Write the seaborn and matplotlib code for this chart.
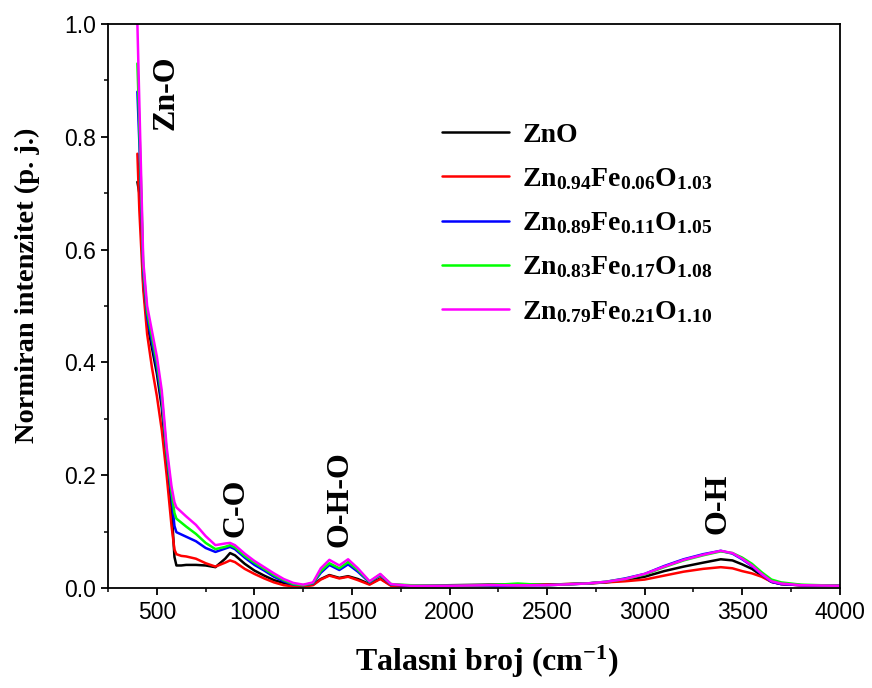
import matplotlib
matplotlib.use("Agg")
import matplotlib.pyplot as plt
import pandas as pd
import seaborn as sns
from matplotlib.ticker import MultipleLocator

# FTIR spectra, normalised intensity vs. wavenumber (cm^-1)
wavenumber = [400, 410, 420, 430, 450, 475, 500, 525, 550, 575,
              590, 600, 625, 650, 700, 750, 800, 850, 875, 900,
              950, 1000, 1050, 1100, 1150, 1200, 1250, 1300, 1340, 1384,
              1435, 1480, 1530, 1590, 1645, 1700, 1800, 2000, 2200, 2350,
              2500, 2700, 2800, 2900, 3000, 3100, 3200, 3300, 3390, 3450,
              3500, 3550, 3600, 3650, 3700, 3800, 4000]

zno = [0.72, 0.70, 0.65, 0.54, 0.47, 0.425, 0.38, 0.32, 0.22, 0.14,
       0.055, 0.040, 0.040, 0.041, 0.041, 0.040, 0.037, 0.052, 0.062, 0.058,
       0.043, 0.031, 0.022, 0.014, 0.009, 0.005, 0.004, 0.006, 0.016, 0.023,
       0.018, 0.021, 0.016, 0.007, 0.017, 0.005, 0.004, 0.005, 0.006, 0.006,
       0.006, 0.008, 0.010, 0.014, 0.020, 0.030, 0.038, 0.045, 0.051, 0.049,
       0.042, 0.034, 0.022, 0.011, 0.007, 0.005, 0.004]

fe006 = [0.77, 0.67, 0.60, 0.53, 0.45, 0.39, 0.34, 0.28, 0.20, 0.11,
         0.068, 0.060, 0.057, 0.056, 0.052, 0.044, 0.038, 0.045, 0.049, 0.046,
         0.034, 0.025, 0.017, 0.010, 0.005, 0.003, 0.003, 0.005, 0.015, 0.022,
         0.017, 0.020, 0.014, 0.006, 0.016, 0.004, 0.003, 0.004, 0.005, 0.005,
         0.006, 0.008, 0.010, 0.012, 0.015, 0.022, 0.029, 0.034, 0.037, 0.035,
         0.030, 0.026, 0.020, 0.011, 0.007, 0.005, 0.004]

fe011 = [0.88, 0.79, 0.68, 0.56, 0.48, 0.435, 0.39, 0.33, 0.235, 0.16,
         0.110, 0.099, 0.095, 0.091, 0.083, 0.071, 0.064, 0.070, 0.073, 0.069,
         0.054, 0.041, 0.031, 0.020, 0.012, 0.006, 0.005, 0.008, 0.027, 0.041,
         0.032, 0.042, 0.029, 0.010, 0.023, 0.006, 0.004, 0.004, 0.004, 0.005,
         0.005, 0.008, 0.011, 0.017, 0.025, 0.039, 0.051, 0.060, 0.066, 0.061,
         0.051, 0.039, 0.024, 0.011, 0.007, 0.005, 0.004]

fe017 = [0.93, 0.82, 0.70, 0.57, 0.49, 0.445, 0.40, 0.34, 0.24, 0.17,
         0.133, 0.123, 0.116, 0.109, 0.096, 0.080, 0.069, 0.073, 0.076, 0.072,
         0.057, 0.045, 0.034, 0.023, 0.014, 0.007, 0.005, 0.009, 0.030, 0.044,
         0.035, 0.046, 0.032, 0.011, 0.024, 0.007, 0.005, 0.004, 0.005, 0.008,
         0.005, 0.008, 0.011, 0.016, 0.024, 0.037, 0.049, 0.058, 0.065, 0.062,
         0.054, 0.043, 0.028, 0.015, 0.010, 0.006, 0.004]

fe021 = [1.00, 0.86, 0.72, 0.58, 0.50, 0.455, 0.41, 0.35, 0.25, 0.18,
         0.152, 0.143, 0.135, 0.127, 0.112, 0.092, 0.076, 0.079, 0.080, 0.076,
         0.061, 0.048, 0.037, 0.026, 0.016, 0.009, 0.006, 0.010, 0.035, 0.050,
         0.040, 0.051, 0.035, 0.012, 0.025, 0.007, 0.004, 0.004, 0.005, 0.005,
         0.005, 0.008, 0.011, 0.016, 0.025, 0.038, 0.050, 0.059, 0.066, 0.062,
         0.052, 0.040, 0.025, 0.012, 0.008, 0.005, 0.004]

labels = ["ZnO",
          r"Zn$_{0.94}$Fe$_{0.06}$O$_{1.03}$",
          r"Zn$_{0.89}$Fe$_{0.11}$O$_{1.05}$",
          r"Zn$_{0.83}$Fe$_{0.17}$O$_{1.08}$",
          r"Zn$_{0.79}$Fe$_{0.21}$O$_{1.10}$"]
colors = ["#000000", "#ff0000", "#0000ff", "#00ff00", "#ff00ff"]

# band assignments: (text, wavenumber, intensity)
bands = [("Zn-O", 545, 0.878),
         ("C-O", 905, 0.142),
         ("O-H-O", 1436, 0.158),
         ("O-H", 3377, 0.150)]

sns.set_theme(style="ticks")
plt.rcParams.update({
    "font.family": ["Liberation Sans", "DejaVu Sans"],
    "mathtext.fontset": "custom",
    "mathtext.rm": "Liberation Serif:bold",
    "mathtext.it": "Liberation Serif:bold",
    "mathtext.bf": "Liberation Serif:bold",
    "axes.linewidth": 1.3,
    "axes.edgecolor": "black",
    "axes.labelcolor": "black",
    "text.color": "black",
    "xtick.color": "black",
    "ytick.color": "black",
    "xtick.direction": "out",
    "ytick.direction": "out",
})

series = [zno, fe006, fe011, fe017, fe021]
df = pd.concat(
    [pd.DataFrame({"wavenumber": wavenumber, "intensity": vals, "sample": lab})
     for lab, vals in zip(labels, series)],
    ignore_index=True,
)

fig = plt.figure(figsize=(8.72, 6.88), dpi=100)
ax = fig.add_axes([0.124, 0.1453, 0.839, 0.8198])

sns.lineplot(data=df, x="wavenumber", y="intensity", hue="sample",
             hue_order=labels, palette=colors, estimator=None, sort=False,
             linewidth=1.8, ax=ax, legend=True)

ax.set_xlim(250, 4000)
ax.set_ylim(0.0, 1.0)
ax.xaxis.set_major_locator(MultipleLocator(500))
ax.xaxis.set_minor_locator(MultipleLocator(250))
ax.yaxis.set_major_locator(MultipleLocator(0.2))
ax.yaxis.set_minor_locator(MultipleLocator(0.1))
ax.set_xticks([500, 1000, 1500, 2000, 2500, 3000, 3500, 4000])
ax.tick_params(which="major", length=5, width=1.3, labelsize=16.5, pad=4,
               colors="black")
ax.tick_params(which="minor", length=3, width=1.1, colors="black")
for s in ax.spines.values():
    s.set_visible(True)
    s.set_linewidth(1.3)
    s.set_color("black")

serif_bold = dict(family="Liberation Serif", fontweight="bold", color="black")
ax.set_xlabel(r"Talasni broj (cm$^{-1}$)", fontsize=23, **serif_bold)
ax.xaxis.set_label_coords(0.518, -0.098)
ax.set_ylabel("Normiran intenzitet (p. j.)", fontsize=20.5, **serif_bold)
ax.yaxis.set_label_coords(-0.093, 0.537)

for text, x, y in bands:
    ax.text(x, y, text, rotation=90, ha="center", va="center",
            fontsize=23, **serif_bold)

handles, hlabels = ax.get_legend_handles_labels()
leg = ax.legend(handles, hlabels, loc="upper left", bbox_to_anchor=(0.422, 0.87),
                frameon=False, handlelength=2.4, handletextpad=0.5,
                labelspacing=0.66, prop={"family": "Liberation Serif",
                                         "weight": "bold", "size": 20})
for line in leg.get_lines():
    line.set_linewidth(1.8)
for t in leg.get_texts():
    t.set_color("black")

fig.savefig("out.png", dpi=100)
